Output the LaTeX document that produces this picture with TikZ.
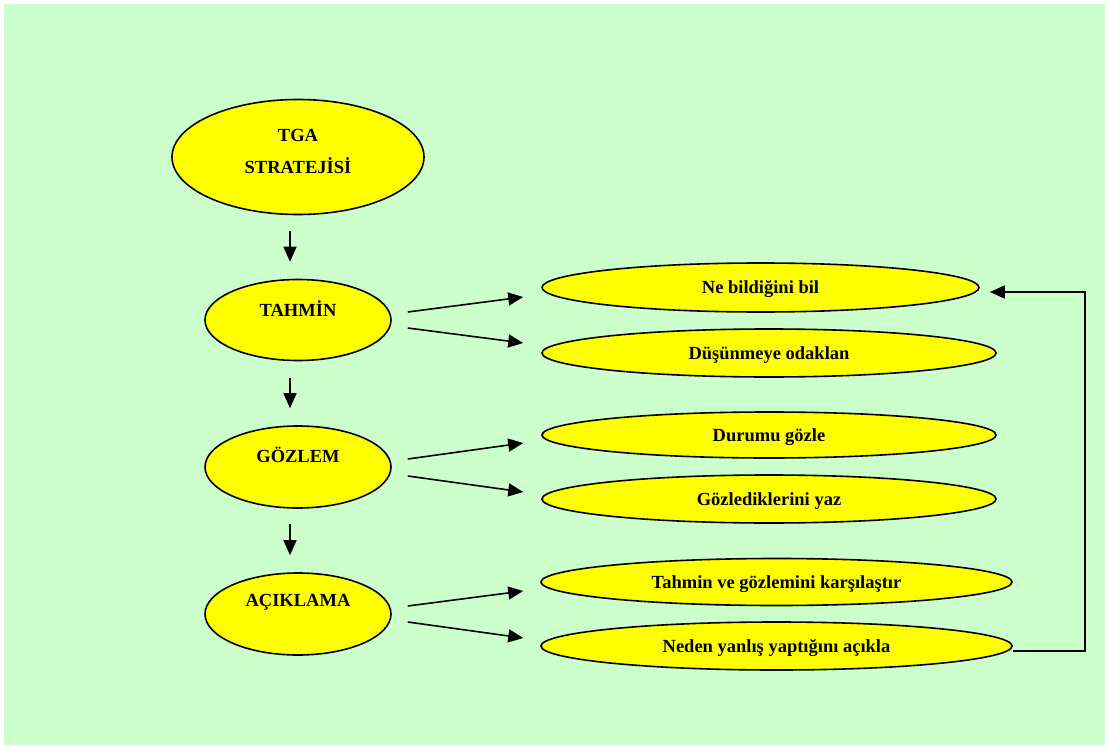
\documentclass[tikz,border=0pt]{standalone}
\usepackage{fontspec}
\setmainfont{Liberation Serif}
\usetikzlibrary{shapes.geometric,arrows.meta,calc}
\definecolor{bggreen}{HTML}{CCFFCC}
\definecolor{ellyellow}{HTML}{FFFF00}
\tikzset{
  ell/.style={ellipse, draw=black, fill=ellyellow, line width=1.6pt, inner sep=0pt,
    font=\fontsize{18.5pt}{22pt}\selectfont\bfseries, text height=12pt, text depth=0pt},
  txt/.style={font=\fontsize{18.5pt}{32pt}\selectfont\bfseries, align=center, inner sep=0pt},
  arr/.style={line width=1.6pt, -{Triangle[length=15pt,width=13pt]}},
  fb/.style={line width=1.4pt, -{Triangle[length=15pt,width=13pt]}}
}
\begin{document}
\begin{tikzpicture}[x=1pt,y=-1pt]
\useasboundingbox (0,0) rectangle (1105,746);
\fill[bggreen] (4,4) rectangle (1105,745);
% left column
\node[ell, minimum width=252pt, minimum height=115pt,
  label={[txt,yshift=6pt]center:{TGA\\STRATEJİSİ}}] (tga) at (298,157) {};
\node[ell, minimum width=186pt, minimum height=81pt,
  label={[txt,yshift=11pt]center:TAHMİN}] (tahmin) at (298,320) {};
\node[ell, minimum width=186pt, minimum height=82pt,
  label={[txt,yshift=12pt]center:GÖZLEM}] (gozlem) at (298,467) {};
\node[ell, minimum width=186pt, minimum height=82pt,
  label={[txt,yshift=12pt]center:AÇIKLAMA}] (aciklama) at (298,614) {};
% right column
\node[ell, minimum width=437pt, minimum height=49pt] (ne) at (760.5,287.5) {Ne bildiğini bil};
\node[ell, minimum width=454pt, minimum height=48pt] (dus) at (769,353) {Düşünmeye odaklan};
\node[ell, minimum width=454pt, minimum height=46pt] (durumu) at (769,435) {Durumu gözle};
\node[ell, minimum width=454pt, minimum height=48pt] (gozledik) at (769,499) {Gözlediklerini yaz};
\node[ell, minimum width=471pt, minimum height=47pt] (tahminve) at (776.5,582) {Tahmin ve gözlemini karşılaştır};
\node[ell, minimum width=471pt, minimum height=48pt] (neden) at (776.5,646) {Neden yanlış yaptığını açıkla};
% vertical arrows
\draw[arr] ([shift={(-8,16)}]tga.south) -- ([shift={(-8,-17)}]tahmin.north);
\draw[arr] ([shift={(-8,17)}]tahmin.south) -- ([shift={(-8,-17)}]gozlem.north);
\draw[arr] ([shift={(-8,15)}]gozlem.south) -- ([shift={(-8,-17)}]aciklama.north);
% branching arrows
\draw[arr] ([shift={(16,-8)}]tahmin.east) -- ([shift={(-18,9.5)}]ne.west);
\draw[arr] ([shift={(16,8)}]tahmin.east) -- ([shift={(-18,-10)}]dus.west);
\draw[arr] ([shift={(16,-8)}]gozlem.east) -- ([shift={(-18,8)}]durumu.west);
\draw[arr] ([shift={(16,9)}]gozlem.east) -- ([shift={(-18,-7)}]gozledik.west);
\draw[arr] ([shift={(16,-8)}]aciklama.east) -- ([shift={(-17,9)}]tahminve.west);
\draw[arr] ([shift={(16,8)}]aciklama.east) -- ([shift={(-17,-8)}]neden.west);
% feedback
\coordinate (fbcorner) at (1085,651);
\draw[fb] ([shift={(0,5)}]neden.east) -- (fbcorner) |- ([shift={(10,4.5)}]ne.east);
\end{tikzpicture}
\end{document}
